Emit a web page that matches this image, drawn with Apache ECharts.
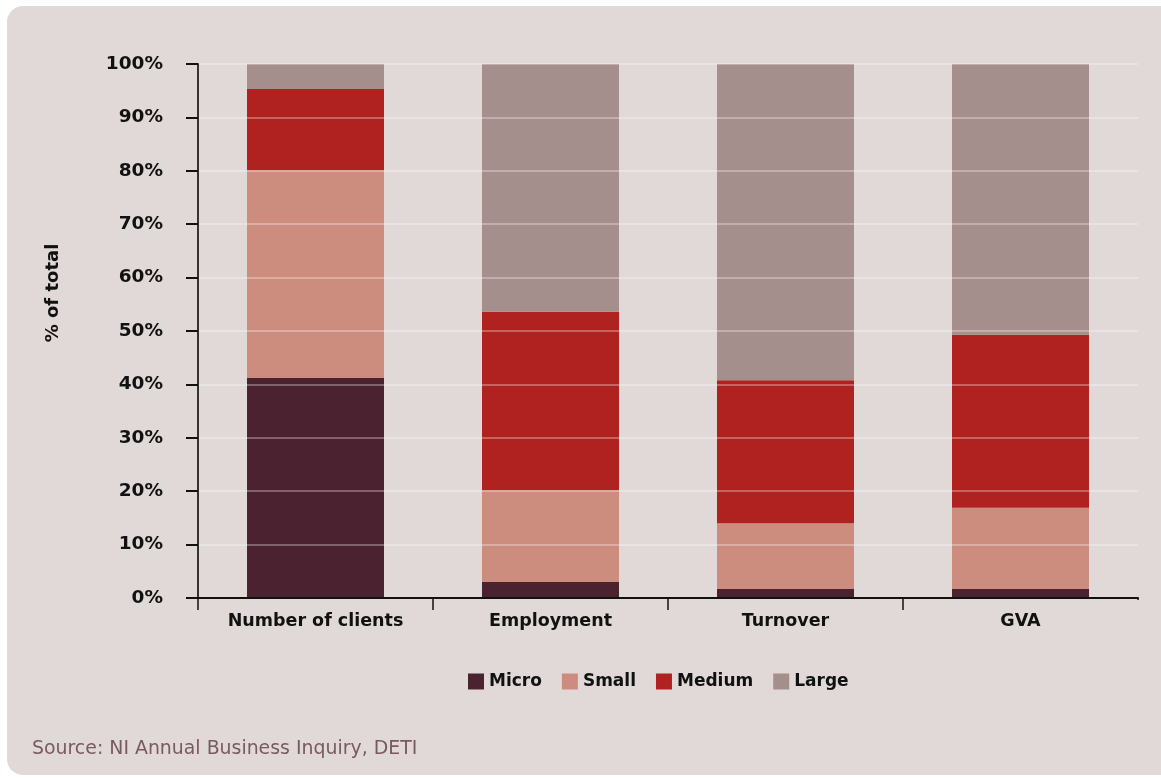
<!DOCTYPE html>
<html>
<head>
<meta charset="utf-8">
<script src="https://cdn.jsdelivr.net/npm/echarts@6/dist/echarts.min.js"></script>
<style>
  html, body { margin: 0; padding: 0; background: #ffffff; }
  #chart { width: 1161px; height: 778px; }
</style>
</head>
<body>
<div id="chart"></div>
<script>
// Business size shares (% of total) by measure
const categories = ['Number of clients', 'Employment', 'Turnover', 'GVA'];
const seriesNames = ['Micro', 'Small', 'Medium', 'Large'];
const micro  = [41.2, 3.0, 1.7, 1.7];
const small  = [38.9, 17.2, 12.3, 15.2];
const medium = [15.2, 33.4, 26.8, 32.4];
const large  = [4.7, 46.4, 59.2, 50.7];
const yTicks = [0, 10, 20, 30, 40, 50, 60, 70, 80, 90, 100];

const colors = ['#4b2330', '#cc8d7e', '#b0221f', '#a48f8d'];
const BG = '#e0d9d8';
const FONT = '"DejaVu Sans"';
const values = [micro, small, medium, large];

const chart = echarts.init(document.getElementById('chart'), null, { renderer: 'canvas' });

chart.setOption({
  animation: false,
  color: colors,
  graphic: [
    {
      type: 'rect', z: -10, silent: true,
      shape: { x: 7, y: 6, width: 1180, height: 769, r: 16 },
      style: { fill: BG }
    },
    {
      // masks the closing boundary tick at the right end of the category axis
      type: 'rect', z: 100, silent: true,
      shape: { x: 1136, y: 600, width: 6, height: 14 },
      style: { fill: BG }
    },
    {
      type: 'text', z: 5, silent: true,
      x: 53, y: 293, rotation: Math.PI / 2,
      style: {
        text: '% of total', fill: '#111', align: 'center', verticalAlign: 'middle',
        font: 'bold 18px ' + FONT
      }
    },
    {
      type: 'text', z: 5, silent: true,
      x: 32, y: 749,
      style: {
        text: 'Source: NI Annual Business Inquiry, DETI', fill: '#7a5a62',
        verticalAlign: 'middle', font: '18.9px "DejaVu Sans"'
      }
    }
  ],
  grid: { left: 198, right: 23, top: 64, bottom: 180, containLabel: false },
  legend: {
    top: 673, left: 468, padding: 0,
    icon: 'rect', itemWidth: 16, itemHeight: 16, itemGap: 20,
    data: seriesNames,
    textStyle: { color: '#111', fontFamily: FONT, fontWeight: 'bold', fontSize: 17 }
  },
  xAxis: {
    type: 'category', data: categories, z: 10,
    axisLine: { lineStyle: { color: '#111', width: 2 } },
    axisTick: { show: true, length: 12, lineStyle: { color: '#111', width: 1.5 } },
    axisLabel: { color: '#111', fontFamily: FONT, fontWeight: 'bold', fontSize: 17.5, margin: 14 }
  },
  yAxis: {
    type: 'value', min: 0, max: 100, interval: 10, z: 10,
    axisLine: { show: true, lineStyle: { color: '#333', width: 2 } },
    axisTick: { show: true, length: 12, lineStyle: { color: '#111', width: 2 } },
    axisLabel: {
      color: '#111', fontFamily: FONT, fontWeight: 'bold', fontSize: 18.5, margin: 35,
      formatter: function (v) { return yTicks.indexOf(v) >= 0 ? v + '%' : ''; }
    },
    splitLine: { show: true, lineStyle: { color: 'rgba(255,255,255,0.4)', width: 1.5 } }
  },
  series: seriesNames.map(function (name, i) {
    return {
      name: name, type: 'bar', stack: 'total', barWidth: 137,
      data: values[i],
      itemStyle: { color: colors[i] }
    };
  })
});
</script>
</body>
</html>
